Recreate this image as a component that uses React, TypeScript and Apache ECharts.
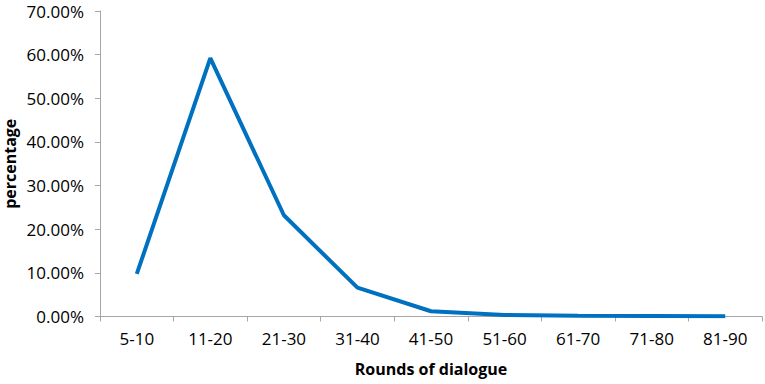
import React, { useEffect, useRef } from "react";
import * as echarts from "echarts";

const categories = ["5-10", "11-20", "21-30", "31-40", "41-50", "51-60", "61-70", "71-80", "81-90"];
const percentages = [9.75, 59.2, 23.2, 6.6, 1.2, 0.35, 0.15, 0.1, 0.05];
const yTicks = { min: 0, max: 70, interval: 10 };

export default function App() {
  const ref = useRef<HTMLDivElement>(null);
  useEffect(() => {
    const chart = echarts.init(ref.current!, null, { renderer: "svg" });
    const font = "'Open Sans', 'Liberation Sans', sans-serif";
    chart.setOption({
      animation: false,
      backgroundColor: "#ffffff",
      grid: { left: 100, right: 3, top: 11, bottom: 67.5, containLabel: false, outerBoundsMode: "none" },
      xAxis: {
        type: "category",
        data: categories,
        boundaryGap: true,
        name: "Rounds of dialogue",
        nameLocation: "middle",
        nameGap: 44,
        nameMoveOverlap: false,
        nameTextStyle: { fontFamily: font, fontSize: 16, fontWeight: "bold", color: "#000" },
        axisLine: { lineStyle: { color: "#a6a6a6", width: 1 } },
        axisTick: { show: true, length: 5, lineStyle: { color: "#a6a6a6" } },
        axisLabel: { fontFamily: font, fontSize: 17, color: "#000", margin: 13 },
      },
      yAxis: {
        type: "value",
        min: yTicks.min,
        max: yTicks.max,
        interval: yTicks.interval,
        name: "percentage",
        nameLocation: "middle",
        nameGap: 81,
        nameRotate: 90,
        nameMoveOverlap: false,
        nameTextStyle: { fontFamily: font, fontSize: 16, fontWeight: "bold", color: "#000", lineHeight: 18 },
        axisLine: { show: true, lineStyle: { color: "#a6a6a6", width: 1 } },
        axisTick: { show: true, length: 5, lineStyle: { color: "#a6a6a6" } },
        splitLine: { show: false },
        axisLabel: {
          fontFamily: font,
          fontSize: 17,
          color: "#000",
          margin: 16,
          formatter: (v: number) => v.toFixed(2) + "%",
        },
      },
      series: [
        {
          type: "line",
          data: percentages,
          symbol: "none",
          lineStyle: { color: "#0070c0", width: 4 },
          itemStyle: { color: "#0070c0" },
        },
      ],
    });
    return () => chart.dispose();
  }, []);
  return <div ref={ref} style={{ width: 765, height: 384, position: "absolute", left: 0, top: 0 }} />;
}
